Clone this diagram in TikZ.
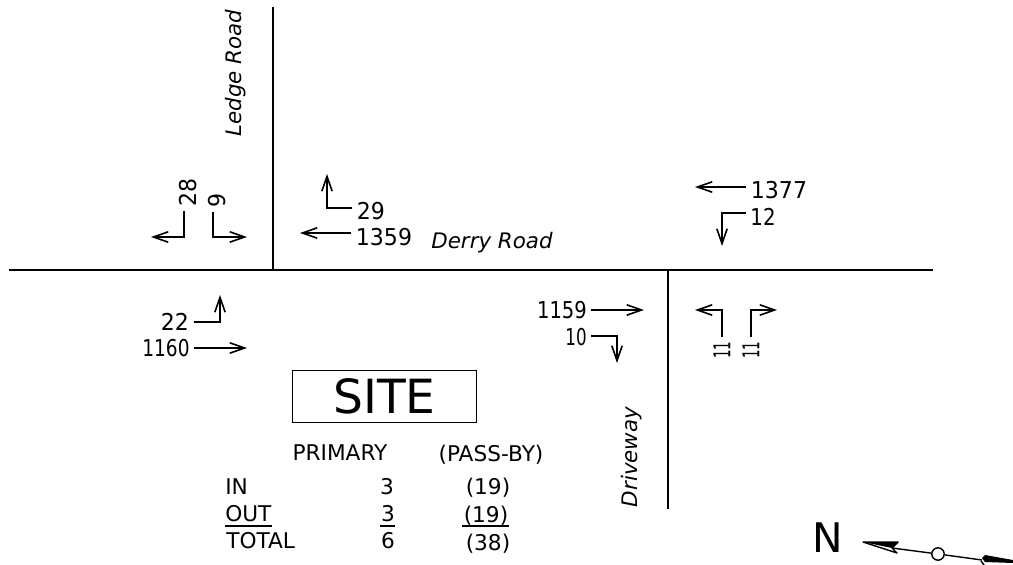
\documentclass[tikz,border=0pt]{standalone}
\usepackage{fontspec}
\usepackage{graphicx}
\setmainfont{DejaVu Sans}
\usetikzlibrary{arrows.meta}
\newcommand{\cnt}[2][0.95]{\scalebox{#1}[1]{#2}}
\tikzset{
    road/.style={line width=1.5pt},
    flow/.style={line width=1.15pt, -{Straight Barb[length=3.7mm, width=2.6mm, line width=1.15pt]}},
    count/.style={font=\fontsize{16.5}{16.5}\selectfont, inner xsep=3pt, inner ysep=3pt},
    road name/.style={font=\itshape\fontsize{15.2}{15.2}\selectfont, inner sep=0pt},
    table text/.style={font=\fontsize{15.4}{15.4}\selectfont, inner sep=0pt},
    table rule/.style={line width=1.1pt}
}
\begin{document}
\begin{tikzpicture}[x=0.025cm, y=-0.025cm]
    \useasboundingbox (0,0) rectangle (1013,565);

    % roads
    \coordinate (ledge top) at (273,7);
    \coordinate (ledge end) at (273,270);
    \coordinate (derry west) at (9,270);
    \coordinate (derry east) at (933,270);
    \coordinate (drive top) at (668,270);
    \coordinate (drive end) at (668,509);
    \draw[road] (ledge top) -- (ledge end);
    \draw[road] (derry west) -- (derry east);
    \draw[road] (drive top) -- (drive end);

    \node[road name, rotate=90] (ledge) at (236,73) {Ledge Road};
    \node[road name] (derry) at (492,243) {Derry Road};
    \node[road name, rotate=90] (driveway) at (632,457) {Driveway};

    % counts, west leg
    \node[count, rotate=90] (c28) at (188,192) {\cnt{28}};
    \coordinate (k28) at (184,237);
    \coordinate (t28) at (151,237);
    \draw[flow] (c28.west -| k28) -- (k28) -- (t28);

    \node[count, rotate=90] (c9) at (217,200) {\cnt{9}};
    \coordinate (k9) at (213,237);
    \coordinate (t9) at (247,237);
    \draw[flow] (c9.west -| k9) -- (k9) -- (t9);

    \node[count] (c29) at (371,211) {\cnt{29}};
    \coordinate (k29) at (327,208);
    \coordinate (t29) at (327,174);
    \draw[flow] (c29.west |- k29) -- (k29) -- (t29);

    \node[count] (c1359) at (384,237) {\cnt{1359}};
    \coordinate (t1359) at (300,233);
    \draw[flow] (c1359.west |- t1359) -- (t1359);

    \node[count] (c22) at (175,322) {\cnt{22}};
    \coordinate (k22) at (220,322);
    \coordinate (t22) at (220,295);
    \draw[flow] (c22.east |- k22) -- (k22) -- (t22);

    \node[count] (c1160) at (166,348) {\cnt[0.8]{1160}};
    \coordinate (t1160) at (247,348);
    \draw[flow] (c1160.east |- t1160) -- (t1160);

    % counts, east leg
    \node[count] (c1377) at (779,190) {\cnt{1377}};
    \coordinate (t1377) at (695,187);
    \draw[flow] (c1377.west |- t1377) -- (t1377);

    \node[count] (c12) at (763,217) {\cnt[0.85]{12}};
    \coordinate (k12) at (722,213);
    \coordinate (t12) at (722,246);
    \draw[flow] (c12.west |- k12) -- (k12) -- (t12);

    \node[count] (c1159) at (562,310) {\cnt[0.84]{1159}};
    \coordinate (t1159) at (644,310);
    \draw[flow] (c1159.east |- t1159) -- (t1159);

    \node[count] (c10) at (576,337) {\cnt[0.72]{10}};
    \coordinate (k10) at (617,336);
    \coordinate (t10) at (617,363);
    \draw[flow] (c10.east |- k10) -- (k10) -- (t10);

    \node[count, rotate=90] (c11a) at (722,350) {\cnt[0.58]{11}};
    \coordinate (k11a) at (722,310);
    \coordinate (t11a) at (695,310);
    \draw[flow] (c11a.east) -- (k11a) -- (t11a);

    \node[count, rotate=90] (c11b) at (751,350) {\cnt[0.58]{11}};
    \coordinate (k11b) at (751,310);
    \coordinate (t11b) at (777,310);
    \draw[flow] (c11b.east) -- (k11b) -- (t11b);

    % site and table
    \node[draw, line width=1.2pt, minimum width=4.6cm, minimum height=1.3cm,
        font=\fontsize{33.5}{33.5}\selectfont] (site) at (384.5,396.5) {SITE};

    \node[table text] (primary) at (340,453) {PRIMARY};
    \node[table text] (passby) at (491,455) {(PASS-BY)};
    \node[table text, anchor=west] (in) at (225,487) {IN};
    \node[table text] (in a) at (387,487) {3};
    \node[table text] (in b) at (488,488) {(19)};
    \node[table text, anchor=west] (out) at (225,514) {OUT};
    \node[table text] (out a) at (388,514) {3};
    \node[table text] (out b) at (486,516) {(19)};
    \node[table text, anchor=west] (total) at (226,541) {TOTAL};
    \node[table text] (total a) at (388,541) {6};
    \node[table text] (total b) at (488,544) {(38)};
    \draw[table rule] (out.west |- 0,526) -- (out.east |- 0,526);
    \draw[table rule] (380,526) -- (395,526);
    \draw[table rule] (462,526) -- (509,526);

    % north arrow
    \node[inner sep=0pt, font=\fontsize{29}{29}\selectfont] (north) at (828,538) {N};
    \node[draw, circle, line width=1pt, fill=white, inner sep=0pt, minimum size=0.31cm] (pivot) at (938,554) {};
    \coordinate (notch) at (892,548);
    \coordinate (tail) at (982,560);
    \draw[line width=1pt] (notch) -- (pivot) -- (tail);
    \draw[line width=1pt, line join=round] (863,542) -- (897,553) -- (notch) -- (898,542) -- cycle;
    \fill (863,542) -- (898,542) -- (notch) -- cycle;
    \fill (982,558) -- (985,555) -- (1013,560) -- (1013,563) -- (985,562) -- cycle;
    \draw[line width=1pt] (981,561) -- (984,565);
\end{tikzpicture}
\end{document}
